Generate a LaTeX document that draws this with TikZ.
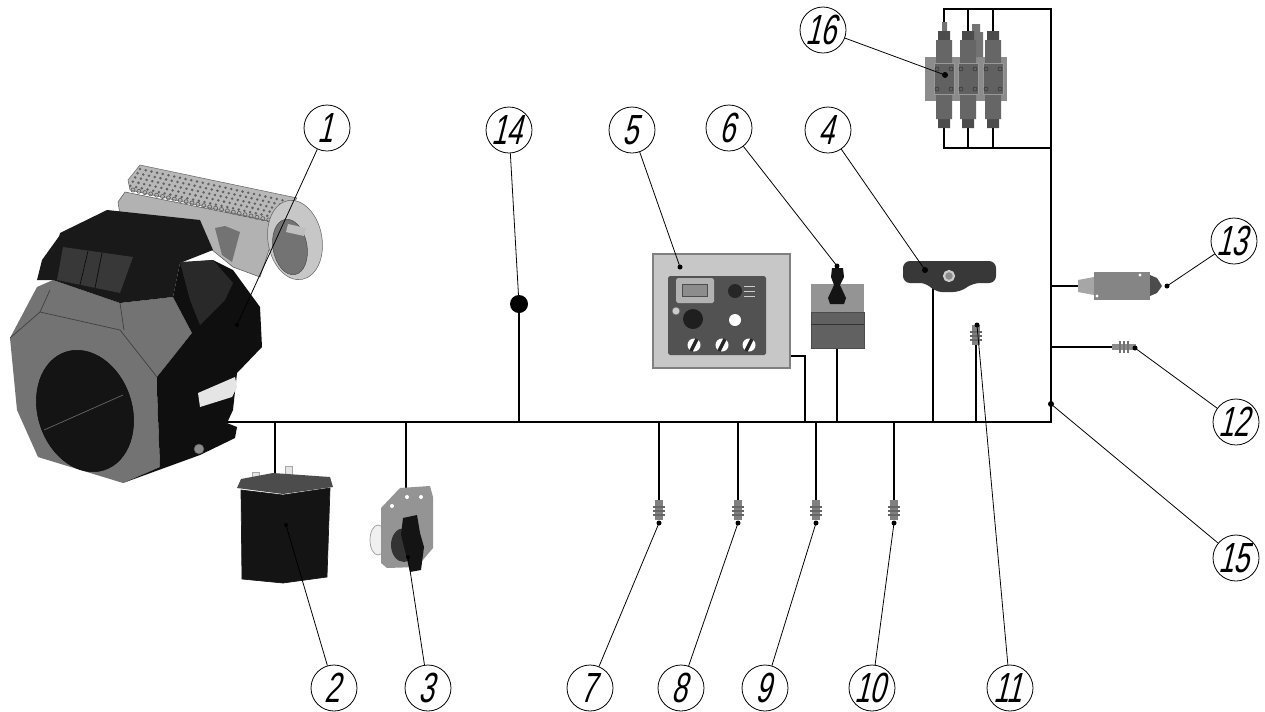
\documentclass[tikz,border=0pt]{standalone}
\usepackage{fontspec}
\setmainfont{Liberation Sans}
\newfontfamily\partfont[FakeSlant=0.25,FakeStretch=0.66]{Liberation Sans}
\tikzset{
    partlabel/.style={circle, draw, fill=white, line width=0.45pt, minimum size=0.92cm, inner sep=-10pt, font=\fontsize{24}{24}\selectfont\partfont, execute at begin node=\hspace{-2.5pt}},
    leader/.style={line width=0.45pt},
    wire/.style={line width=1.2pt, line join=miter},
    tip/.style={fill=black},
}
\begin{document}
\begin{tikzpicture}[x=0.02cm, y=-0.02cm]
\path[use as bounding box, fill=white] (0,0) rectangle (1265,711);

% wires
\coordinate (w0) at (225,422);
\coordinate (w1) at (1051,422);
\coordinate (w2) at (1051,9);
\coordinate (w3) at (944,9);
\coordinate (w4) at (944,148);
\coordinate (w5) at (1051,148);
\draw[wire] (w0) -- (w1) -- (w2) -- (w3) -- (w4) -- (w5);
\foreach \x in {968,993} {
    \draw[wire] (\x,9) -- (\x,148);
}
\foreach \x/\y in {275/475, 406/488, 519/304, 659/500, 738/500, 816/500, 894/500, 837/348, 933/288, 976/345} {
    \draw[wire] (\x,422) -- (\x,\y);
}
\draw[wire] (805,422) -- (805,356) -- (790,356);
\draw[wire] (1051,286) -- (1078,286);
\draw[wire] (1051,347) -- (1114,347);

% air cleaner
\filldraw[draw=gray!70!black, fill=black!30, line width=0.3pt] (118,202) -- (125,192) -- (278,223) -- (260,277) -- (233,267) -- (200,240) -- (120,215) -- cycle;
\fill[black!55] (215,228) -- (225,226) -- (240,232) -- (232,262) -- (222,255) -- cycle;
\filldraw[draw=black!60, fill=black!28, line width=0.3pt] (128,180) -- (140,165) -- (297,198) -- (278,223) -- (130,190) -- cycle;
\foreach \r in {0,...,4} {
    \foreach \c in {0,...,26} {
        \fill[black!62] ({140+5.7*\c-2.4*\r},{169+1.25*\c+4.2*\r}) circle (1.4);
    }
}
\foreach \c in {0,...,24} {
    \draw[black!62, line width=0.4pt] ({133+5.9*\c},{190+1.3*\c}) circle (2);
}
\filldraw[draw=black!60, fill=black!22, rotate around={10:(295,240)}, line width=0.3pt] (295,240) ellipse (27 and 40);
\filldraw[draw=black!70, fill=black!55, rotate around={10:(290,247)}, line width=0.3pt] (290,247) ellipse (17 and 28);
\fill[black!25] (288,224) -- (306,228) -- (304,236) -- (286,232) -- cycle;

% engine
\fill[black!55] (10,338) -- (37,287) -- (53,280) -- (120,303) -- (173,297) -- (192,333) -- (157,377) -- (157,390) -- (160,467) -- (123,483) -- (38,457) -- (17,410) -- cycle;
\draw[black!75, line width=0.4pt] (40,312) -- (120,330) -- (157,377) (50,290) -- (40,312) (120,303) -- (124,330) (40,312) -- (10,338);
\fill[black!94] (157,377) -- (192,333) -- (173,297) -- (180,263) -- (213,260) -- (233,270) -- (260,307) -- (262,347) -- (237,373) -- (233,410) -- (227,423) -- (237,427) -- (235,438) -- (200,455) -- (123,483) -- (160,467) -- (157,390) -- cycle;
\fill[black!90] (37,280) -- (42,260) -- (60,235) -- (60,280) -- cycle;
\fill[black!90] (60,233) -- (107,210) -- (200,220) -- (213,250) -- (180,263) -- (173,297) -- (120,303) -- (53,280) -- (57,247) -- cycle;
\fill[black!78] (63,247) -- (133,257) -- (120,293) -- (57,280) -- cycle;
\draw[black!95, line width=0.4pt] (88,251) -- (80,285) (102,253) -- (95,288);
\fill[black!84] (180,262) -- (213,260) -- (233,283) -- (225,300) -- (200,325) -- (190,300) -- cycle;
\fill[black!10] (198,393) -- (235,377) -- (237,387) -- (232,397) -- (200,407) -- cycle;
\filldraw[draw=black!70, fill=black!45, line width=0.3pt] (199,449) circle (5);
\filldraw[draw=black!95, fill=black!92, rotate around={18:(85,411)}, line width=0.3pt] (85,411) ellipse (47 and 62);
\draw[black!60, line width=0.4pt] (44,430) -- (123,395);

% battery
\filldraw[draw=black!35, fill=black!10, line width=0.3pt] (252,472) rectangle (259,482) (285,466) rectangle (292,478);
\filldraw[draw=black!90, fill=black!92] (241,490) -- (242,579) -- (283,583) -- (327,577) -- (330,488) -- (283,495) -- cycle;
\fill[black!70] (237,488) -- (241,479) -- (273,473) -- (330,477) -- (333,487) -- (283,494) -- cycle;

% switch
\filldraw[draw=black!40, fill=black!6] (378,540) ellipse (8 and 15);
\fill[black!42] (381,508) -- (400,488) -- (430,486) -- (433,497) -- (433,548) -- (417,567) -- (387,568) -- (381,563) -- cycle;
\foreach \x/\y in {392/506, 407/497, 421/497} {
    \fill[white] (\x,\y) circle (2);
}
\fill[black!80] (404,545) ellipse (13 and 17);
\fill[black!92] (403,518) -- (417,515) -- (420,533) -- (424,547) -- (421,570) -- (410,572) -- (406,555) -- (401,535) -- cycle;

% sensors
\foreach \x/\y in {659/500, 738/500, 816/500, 894/500, 976/325} {
    \fill[black!50] (\x-4,\y) rectangle (\x+4,\y+20);
    \foreach \d in {7,11,15} {
        \fill[black!60] (\x-6,\y+\d-1) rectangle (\x+6,\y+\d+1);
    }
}
\fill[black!45] (1112,344) rectangle (1136,350);
\foreach \d in {8,12,16} {
    \fill[black!55] (1112+\d-1,341) rectangle (1112+\d+1,353);
}

% control panel
\filldraw[draw=black!50, fill=black!22, line width=0.8pt] (653,254) rectangle (790,368);
\fill[black!68, rounded corners=1pt] (668,276) rectangle (766,355);
\fill[black!30, rounded corners=1pt] (676,278) rectangle (714,303);
\filldraw[draw=black!70, fill=black!45] (682,284) rectangle (707,296);
\fill[black!85] (735,291) circle (7);
\foreach \y in {286,291,296} {
    \draw[black!20, line width=0.4pt] (744,\y) -- (755,\y);
}
\fill[black!88] (693,319) circle (10);
\fill[white] (735,320) circle (6);
\filldraw[draw=black!60, fill=black!20] (676,311) circle (4);
\foreach \x in {694,722,749} {
    \fill[white] (\x,345) circle (6.5);
    \draw[black!85, line width=2pt] (\x-3,351) -- (\x+3,339);
}

% joystick
\fill[black!42] (811,284) rectangle (864,312);
\filldraw[draw=black!70, fill=black!62, line width=0.4pt] (811,312) rectangle (864,348);
\draw[black!80, line width=0.4pt] (811,324) -- (864,324);
\fill[black!92] (832,268) -- (843,268) -- (844,277) -- (840,285) -- (846,298) -- (844,304) -- (830,304) -- (828,298) -- (834,285) -- (831,277) -- cycle;

% key switch
\fill[black!78, rounded corners=4pt] (903,261) -- (996,261) -- (996,283) -- (973,283) -- (960,292) -- (935,292) -- (927,283) -- (903,283) -- cycle;
\filldraw[draw=black!20, fill=black!45, line width=1.2pt] (949,276) circle (5);

% limit switch
\fill[black!35] (1078,280) -- (1094,277) -- (1094,295) -- (1078,292) -- cycle;
\fill[black!48] (1094,272) rectangle (1150,300);
\fill[black!70] (1150,275) -- (1157,278) -- (1162,286) -- (1157,293) -- (1150,296) -- cycle;
\fill[white] (1140,275) circle (1.6) (1097,296) circle (1.6);

% valve block
\fill[black!45] (925,57) rectangle (1007,101);
\fill[black!55] (974,32) rectangle (983,57) (972,24) rectangle (980,32) (942,22) rectangle (947,31);
\foreach \x in {944,968,993} {
    \fill[black!70] (\x-6,31) rectangle (\x+6,40) (\x-6,119) rectangle (\x+6,128);
    \fill[black!60] (\x-8,40) rectangle (\x+8,63) (\x-8,94) rectangle (\x+8,119);
    \filldraw[draw=black!40, fill=black!62, line width=0.3pt] (\x-10,63) rectangle (\x+10,94);
    \foreach \dx/\dy in {-7/69, 7/69, -7/89, 7/89} {
        \draw[black!80, line width=0.3pt] (\x+\dx,\dy) circle (2);
    }
}

% part labels
\node[partlabel] (n1) at (327,128) {1};
\node[partlabel] (n2) at (334,688) {2};
\node[partlabel] (n3) at (428,688) {3};
\node[partlabel] (n4) at (828,130) {4};
\node[partlabel] (n5) at (632,130) {5};
\node[partlabel] (n6) at (729,128) {6};
\node[partlabel] (n7) at (590,688) {7};
\node[partlabel] (n8) at (681,688) {8};
\node[partlabel] (n9) at (765,688) {9};
\node[partlabel] (n10) at (872,688) {10};
\node[partlabel] (n11) at (1010,688) {11};
\node[partlabel] (n12) at (1236,422) {12};
\node[partlabel] (n13) at (1234,241) {13};
\node[partlabel] (n14) at (509,130) {14};
\node[partlabel] (n15) at (1236,558) {15};
\node[partlabel] (n16) at (823,30) {16};

% leader ends
\foreach \n/\x/\y/\r in {1/237/325/2, 2/286/525/2, 3/408/557/2, 4/925/270/3, 5/680/267/2.5, 6/837/266/2.5, 7/659/523/2.5, 8/738/523/2.5, 9/816/523/2.5, 10/894/523/2.5, 11/977/325/2.5, 12/1135/348/2.5, 13/1167/286/2.5, 15/1051/404/3, 16/945/75/3} {
    \coordinate (t\n) at (\x,\y);
    \fill[tip] (t\n) circle (\r);
    \draw[leader] (n\n) -- (t\n);
}
\coordinate (t14) at (519,304);
\fill[tip] (t14) circle (9);
\draw[leader] (n14) -- (t14);
\end{tikzpicture}
\end{document}
